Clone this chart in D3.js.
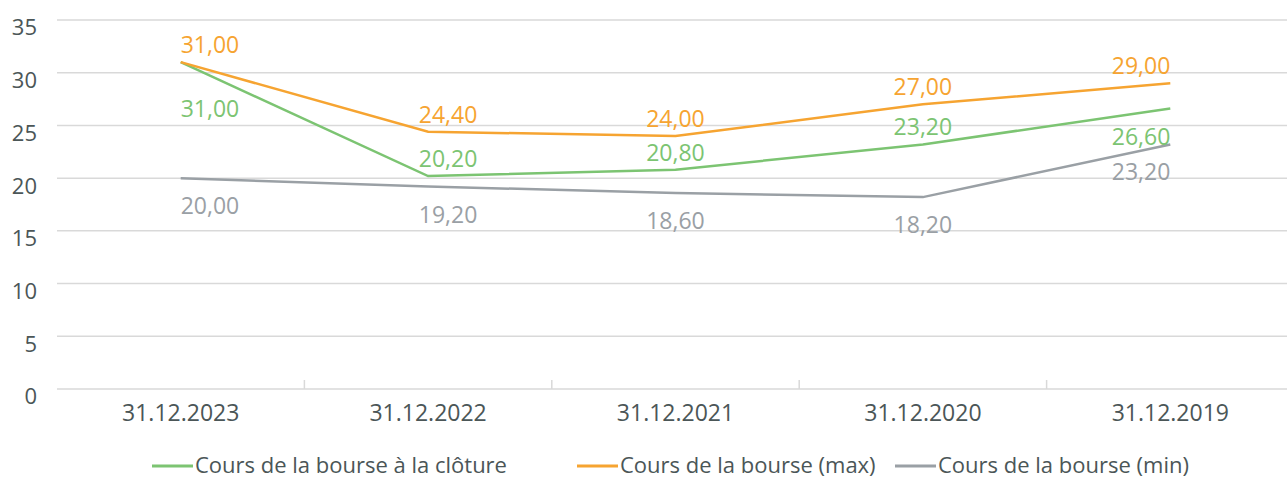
<!DOCTYPE html>
<html>
<head>
<meta charset="utf-8">
<script src="https://cdn.jsdelivr.net/npm/d3@7"></script>
<style>
  body { margin: 0; background: #fff; }
  svg { display: block; font-family: "Open Sans", sans-serif; }
</style>
</head>
<body>
<div id="viz"></div>
<script>
// data
var dates = ["31.12.2023", "31.12.2022", "31.12.2021", "31.12.2020", "31.12.2019"];
var closeVals = [31.0, 20.2, 20.8, 23.2, 26.6];
var maxVals = [31.0, 24.4, 24.0, 27.0, 29.0];
var minVals = [20.0, 19.2, 18.6, 18.2, 23.2];
var yTicks = [0, 5, 10, 15, 20, 25, 30, 35];
var seriesNames = ["Cours de la bourse à la clôture", "Cours de la bourse (max)", "Cours de la bourse (min)"];
// where the value label sits, relative to its point
var closeLabelPos = ["below", "above", "above", "above", "below"];

var width = 1287, height = 479;
var margin = { top: 20, left: 57, right: -7, bottom: 90 };

var svg = d3.select("#viz").append("svg")
  .attr("width", width)
  .attr("height", height);

var innerW = width - margin.left - margin.right;
var innerH = height - margin.top - margin.bottom;

var g = svg.append("g")
  .attr("transform", "translate(" + margin.left + "," + margin.top + ")");

var x_scale = d3.scaleBand().domain(dates).range([0, innerW]);
var y_scale = d3.scaleLinear().domain([0, 35]).range([innerH, 0]);
var xc = function(d){ return x_scale(d) + x_scale.bandwidth() / 2; };

var textColor = "#4b5657";
var gridColor = "#d9d9d9";
var colors = ["#7cc472", "#f6a431", "#9aa0a5"];

// grid
g.selectAll(".grid").data(yTicks).enter().append("line")
  .attr("class", "grid")
  .attr("x1", 0).attr("x2", innerW)
  .attr("y1", function(d){ return y_scale(d); })
  .attr("y2", function(d){ return y_scale(d); })
  .attr("stroke", gridColor).attr("stroke-width", 1.5);

// y axis labels
var y_axis = d3.axisLeft(y_scale).tickValues(yTicks).tickSize(0).tickPadding(20);
var ya = g.append("g").call(y_axis);
ya.select(".domain").remove();
ya.selectAll("text")
  .attr("font-size", 22).attr("fill", textColor)
  .attr("font-family", "'Open Sans', sans-serif")
  .attr("dy", "0.68em");

// x axis with ticks between categories
var x_axis = d3.axisBottom(x_scale).tickSize(0).tickPadding(16);
var xa = g.append("g").attr("transform", "translate(0," + innerH + ")").call(x_axis);
xa.select(".domain").remove();
xa.selectAll("text")
  .attr("font-size", 23).attr("fill", textColor)
  .attr("font-family", "'Open Sans', sans-serif");
g.selectAll(".xtick").data(dates.slice(1)).enter().append("line")
  .attr("x1", function(d){ return x_scale(d); })
  .attr("x2", function(d){ return x_scale(d); })
  .attr("y1", innerH - 9).attr("y2", innerH)
  .attr("stroke", gridColor).attr("stroke-width", 1.5);

var series = [
  { vals: closeVals, color: colors[0] },
  { vals: maxVals, color: colors[1] },
  { vals: minVals, color: colors[2] }
];

var line = d3.line()
  .x(function(d){ return xc(d.key); })
  .y(function(d){ return y_scale(d.value); });

// draw min, close, max order
[2, 0, 1].forEach(function(si){
  var s = series[si];
  var pts = dates.map(function(d, i){ return { key: d, value: s.vals[i] }; });
  g.append("path").datum(pts)
    .attr("d", line)
    .attr("fill", "none")
    .attr("stroke", s.color)
    .attr("stroke-width", 2.5);
});

var fmt = function(v){ return v.toFixed(2).replace(".", ","); };
var anchorFor = function(i){ return i == 0 ? "start" : (i == dates.length - 1 ? "end" : "middle"); };

function labels(s, posArr){
  g.append("g").selectAll("text").data(dates).enter().append("text")
    .attr("x", function(d, i){ return xc(d) + (i == 1 ? 20 : 0); })
    .attr("y", function(d, i){
      var v = s.vals[i];
      if (posArr[i] == "above") return y_scale(v) - 9;
      // push further down when the point sits on top of the max point
      if (s.vals === closeVals && v == maxVals[i]) return y_scale(v) + 55;
      return y_scale(v) + 36;
    })
    .attr("text-anchor", function(d, i){ return anchorFor(i); })
    .attr("font-size", 23)
    .attr("fill", s.color)
    .text(function(d, i){ return fmt(s.vals[i]); });
}
labels(series[1], dates.map(function(){ return "above"; }));
labels(series[0], closeLabelPos);
labels(series[2], dates.map(function(){ return "below"; }));

// legend
var legendX = [152, 577, 895];
var lg = svg.append("g").attr("transform", "translate(0,466)");
seriesNames.forEach(function(n, i){
  lg.append("line")
    .attr("x1", legendX[i]).attr("x2", legendX[i] + 41)
    .attr("y1", 0).attr("y2", 0)
    .attr("stroke", colors[i]).attr("stroke-width", 3);
  lg.append("text")
    .attr("x", legendX[i] + 43).attr("y", 7)
    .attr("font-size", 22)
    .attr("fill", textColor)
    .text(n);
});
</script>
</body>
</html>
